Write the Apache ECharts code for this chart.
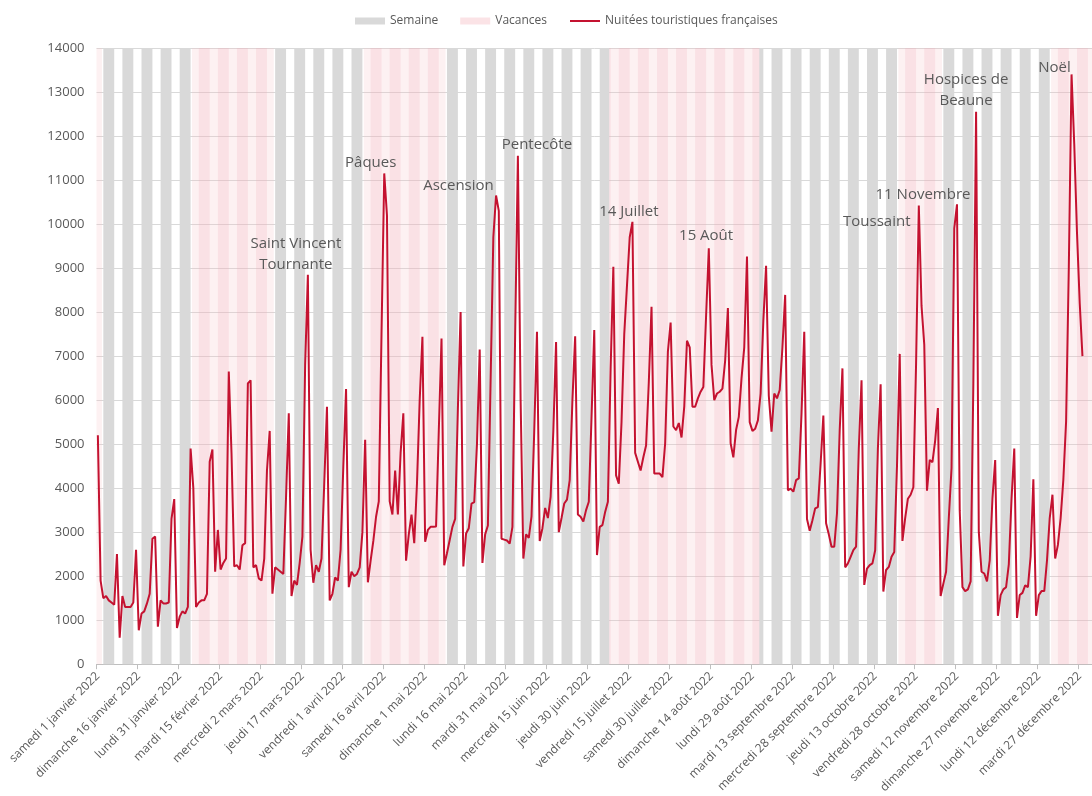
<!DOCTYPE html>
<html>
<head>
<meta charset="utf-8">
<script src="https://cdn.jsdelivr.net/npm/echarts@6/dist/echarts.min.js"></script>
<style>
html,body{margin:0;padding:0;background:#ffffff;}
#chart{width:1092px;height:796px;}
</style>
</head>
<body>
<div id="chart"></div>
<script>
// ---------- DATA ----------
const annee = 2022;
const joursSemaine = ['dimanche','lundi','mardi','mercredi','jeudi','vendredi','samedi'];
const moisNoms = ['janvier','février','mars','avril','mai','juin','juillet','août','septembre','octobre','novembre','décembre'];

// Nuitées touristiques françaises, one value per day from 1 Jan 2022
const nuitees = [
5200,1900,1500,1550,1450,1400,1350,2500,600,1550,
1300,1300,1300,1400,2600,770,1150,1200,1380,1600,
2850,2900,850,1450,1380,1380,1400,3300,3750,820,
1080,1200,1150,1300,4900,4000,1300,1400,1450,1450,
1600,4600,4880,2100,3050,2150,2300,2400,6650,4800,
2220,2250,2150,2700,2750,6380,6450,2200,2250,1950,
1900,2400,4400,5300,1600,2200,2150,2100,2050,3800,
5700,1550,1900,1800,2300,2900,6800,8850,2600,1850,
2250,2100,2400,4100,5850,1450,1600,1970,1900,2600,
4500,6250,1750,2100,2000,2050,2200,3000,5100,1860,
2350,2800,3350,3700,7500,11150,10200,3700,3400,4400,
3400,4800,5700,2350,2950,3400,2750,4100,6000,7440,
2780,3050,3120,3120,3130,5300,7400,2250,2520,2820,
3120,3300,5800,8000,2220,2970,3090,3650,3680,5000,
7150,2300,2950,3150,6450,9700,10650,10300,2850,2830,
2810,2740,3120,7500,11550,6000,2400,2950,2870,3360,
5300,7550,2800,3090,3550,3320,3800,5300,7320,3000,
3320,3650,3740,4180,6000,7450,3400,3350,3240,3500,
3690,5600,7590,2480,3120,3160,3460,3690,6700,9030,
4290,4100,5500,7500,8600,9700,10050,4800,4600,4400,
4700,4970,6400,8120,4330,4330,4330,4250,5020,7100,
7760,5400,5320,5480,5150,5850,7350,7200,5850,5850,
6040,6190,6300,7900,9450,6800,6000,6150,6190,6260,
6900,8090,5020,4700,5320,5620,6500,7200,9260,5500,
5300,5350,5540,6150,7800,9050,6100,5280,6150,6040,
6230,7200,8390,3950,3990,3920,4180,4220,5700,7550,
3300,3030,3270,3540,3570,4560,5650,3200,2950,2670,
2670,3430,5320,6720,2200,2290,2440,2590,2670,4900,
6450,1800,2170,2250,2290,2590,4900,6360,1650,2140,
2210,2440,2550,4500,7050,2800,3320,3760,3850,4020,
6830,10420,8140,7260,3940,4640,4590,5080,5820,1550,
1830,2100,3320,4460,9900,10450,3500,1750,1660,1700,
1880,6390,12550,3000,2100,2060,1880,2360,3760,4640,
1100,1570,1700,1750,2270,3760,4900,1050,1570,1620,
1790,1750,2450,4200,1100,1570,1660,1660,2360,3320,
3850,2400,2710,3320,4200,5510,9020,13400,11800,9800,
8200,7000,null,null,null
];

// School holiday periods (first day, last day)
const vacances = [
  ['2022-01-01','2022-01-02'],
  ['2022-02-05','2022-03-06'],
  ['2022-04-09','2022-05-08'],
  ['2022-07-08','2022-08-31'],
  ['2022-10-22','2022-11-06'],
  ['2022-12-17','2022-12-31']
];

// Annotated events and the day of their peak
const evenements = ['Saint Vincent\nTournante','Pâques','Ascension','Pentecôte','14 Juillet','15 Août','Toussaint','11 Novembre','Hospices de\nBeaune','Noël'];
const evenementDates = ['2022-03-19','2022-04-16','2022-05-27','2022-06-04','2022-07-16','2022-08-13','2022-10-29','2022-11-12','2022-11-19','2022-12-24'];

const yMin = 0, yMax = 14000, yStep = 1000;
const labelStep = 15;

// ---------- BUILD ----------
const N = nuitees.length;
const t0 = Date.UTC(annee,0,1);
const dayIndex = s => Math.round((Date.UTC(+s.slice(0,4), +s.slice(5,7)-1, +s.slice(8,10)) - t0)/86400000);
const dow = d => new Date(t0 + d*86400000).getUTCDay();
const categories = [];
for (let d=0; d<N; d++){
  const dt = new Date(t0 + d*86400000);
  categories.push(joursSemaine[dt.getUTCDay()]+' '+dt.getUTCDate()+' '+moisNoms[dt.getUTCMonth()]+' '+dt.getUTCFullYear());
}
const isVac = new Array(N).fill(false);
vacances.forEach(([a,b]) => { for (let d=dayIndex(a); d<=dayIndex(b); d++) isVac[d]=true; });
const isWeekday = d => { const w=dow(d); return w>=1 && w<=5; };

const COL_GRAY = '#d9d9d9';
const COL_PINK_LIGHT = 'rgba(245,190,198,0.22)';
const COL_PINK_DARK = 'rgba(240,170,180,0.22)';

const grayAreas = [], pinkAreas = [];
let d = 0;
while (d < N){
  if (!isWeekday(d)) { d++; continue; }
  const v = isVac[d]; let e = d;
  while (e+1 < N && isWeekday(e+1) && isVac[e+1] === v) e++;
  const s0 = dow(d) === 1 ? d : d - 0.5;
  const e0 = dow(e) === 5 ? e : e + 0.5;
  if (v) pinkAreas.push([{xAxis:s0, yAxis:yMin, itemStyle:{color:COL_PINK_DARK}},{xAxis:e0, yAxis:yMax}]);
  else grayAreas.push([{xAxis:s0, yAxis:yMin},{xAxis:e0, yAxis:yMax}]);
  d = e + 1;
}
const vacAreas = vacances.map(([a,b]) => [{xAxis:dayIndex(a)-0.5, yAxis:yMin, itemStyle:{color:COL_PINK_LIGHT}},{xAxis:dayIndex(b)+0.5, yAxis:yMax}]);

// label placement relative to the peak point (style)
const annotOffsets = [[-12,-20.5],[-13.5,-10.6],[-37.6,-9.7],[19,-11],[-3.5,-10],[-2.7,-12.5],[-42,16],[-34,-9.5],[-10,-21.5],[-17,-6.5]];
const annotPoints = evenements.map((nm,i) => {
  const idx = dayIndex(evenementDates[i]);
  return { name: nm, coord: [categories[idx], nuitees[idx]], label: { offset: annotOffsets[i] } };
});

const FONT = 'Open Sans';
const TXT = '#595959';
const RED = '#c41230';

const chart = echarts.init(document.getElementById('chart'), null, {renderer:'canvas'});
chart.setOption({
  animation: false,
  backgroundColor: '#ffffff',
  textStyle: { fontFamily: FONT },
  legend: {
    left: 350, top: 10,
    itemWidth: 30, itemHeight: 7, itemGap: 22,
    textStyle: { color: TXT, fontSize: 12, fontFamily: FONT },
    data: [
      { name: 'Semaine', icon: 'rect' },
      { name: 'Vacances', icon: 'rect' },
      { name: 'Nuitées touristiques françaises', itemStyle: { opacity: 0 } }
    ]
  },
  grid: { left: 96.5, top: 48, width: 365*2.758, bottom: 131, containLabel: false },
  xAxis: [
    {
      type: 'category',
      data: categories,
      boundaryGap: true,
      axisLine: { show: true, lineStyle: { color: '#bfbfbf', width: 1 } },
      axisTick: { show: true, interval: labelStep-1, length: 5, lineStyle: { color: '#bfbfbf' } },
      axisLabel: { interval: labelStep-1, rotate: 45, margin: 10, color: TXT, fontSize: 12, fontFamily: FONT },
      splitLine: { show: false }
    },
    {
      type: 'value', min: -0.5, max: N - 0.5, show: false,
      axisLine:{show:false}, axisTick:{show:false}, axisLabel:{show:false}, splitLine:{show:false}
    }
  ],
  yAxis: {
    type: 'value', min: yMin, max: yMax, interval: yStep,
    axisLine: { show: false }, axisTick: { show: false },
    axisLabel: { color: TXT, fontSize: 13, margin: 12, fontFamily: FONT, formatter: v => String(v) },
    splitLine: { show: true, lineStyle: { color: '#d9d9d9', width: 1 } }
  },
  series: [
    {
      name: 'Semaine', type: 'line', xAxisIndex: 1, yAxisIndex: 0, data: [],
      itemStyle: { color: COL_GRAY }, lineStyle: { color: COL_GRAY }, z: 1,
      markArea: { silent: true, itemStyle: { color: COL_GRAY }, label:{show:false}, data: grayAreas }
    },
    {
      name: 'Vacances', type: 'line', xAxisIndex: 1, yAxisIndex: 0, data: [],
      itemStyle: { color: '#fbe3e6' }, lineStyle: { color: '#fbe3e6' }, z: 1,
      markArea: { silent: true, label:{show:false}, data: vacAreas.concat(pinkAreas) }
    },
    {
      name: 'Nuitées touristiques françaises', type: 'line', xAxisIndex: 0, yAxisIndex: 0,
      data: nuitees, symbol: 'none', showSymbol: false, connectNulls: false,
      lineStyle: { color: RED, width: 2 }, itemStyle: { color: RED }, z: 3,
      markPoint: {
        silent: true, symbol: 'circle', symbolSize: 1,
        itemStyle: { color: 'rgba(0,0,0,0)' },
        label: { show: true, position: 'inside', color: TXT, fontSize: 15, lineHeight: 21, fontFamily: FONT, formatter: p => p.name },
        data: annotPoints
      }
    }
  ]
});
</script>
</body>
</html>
